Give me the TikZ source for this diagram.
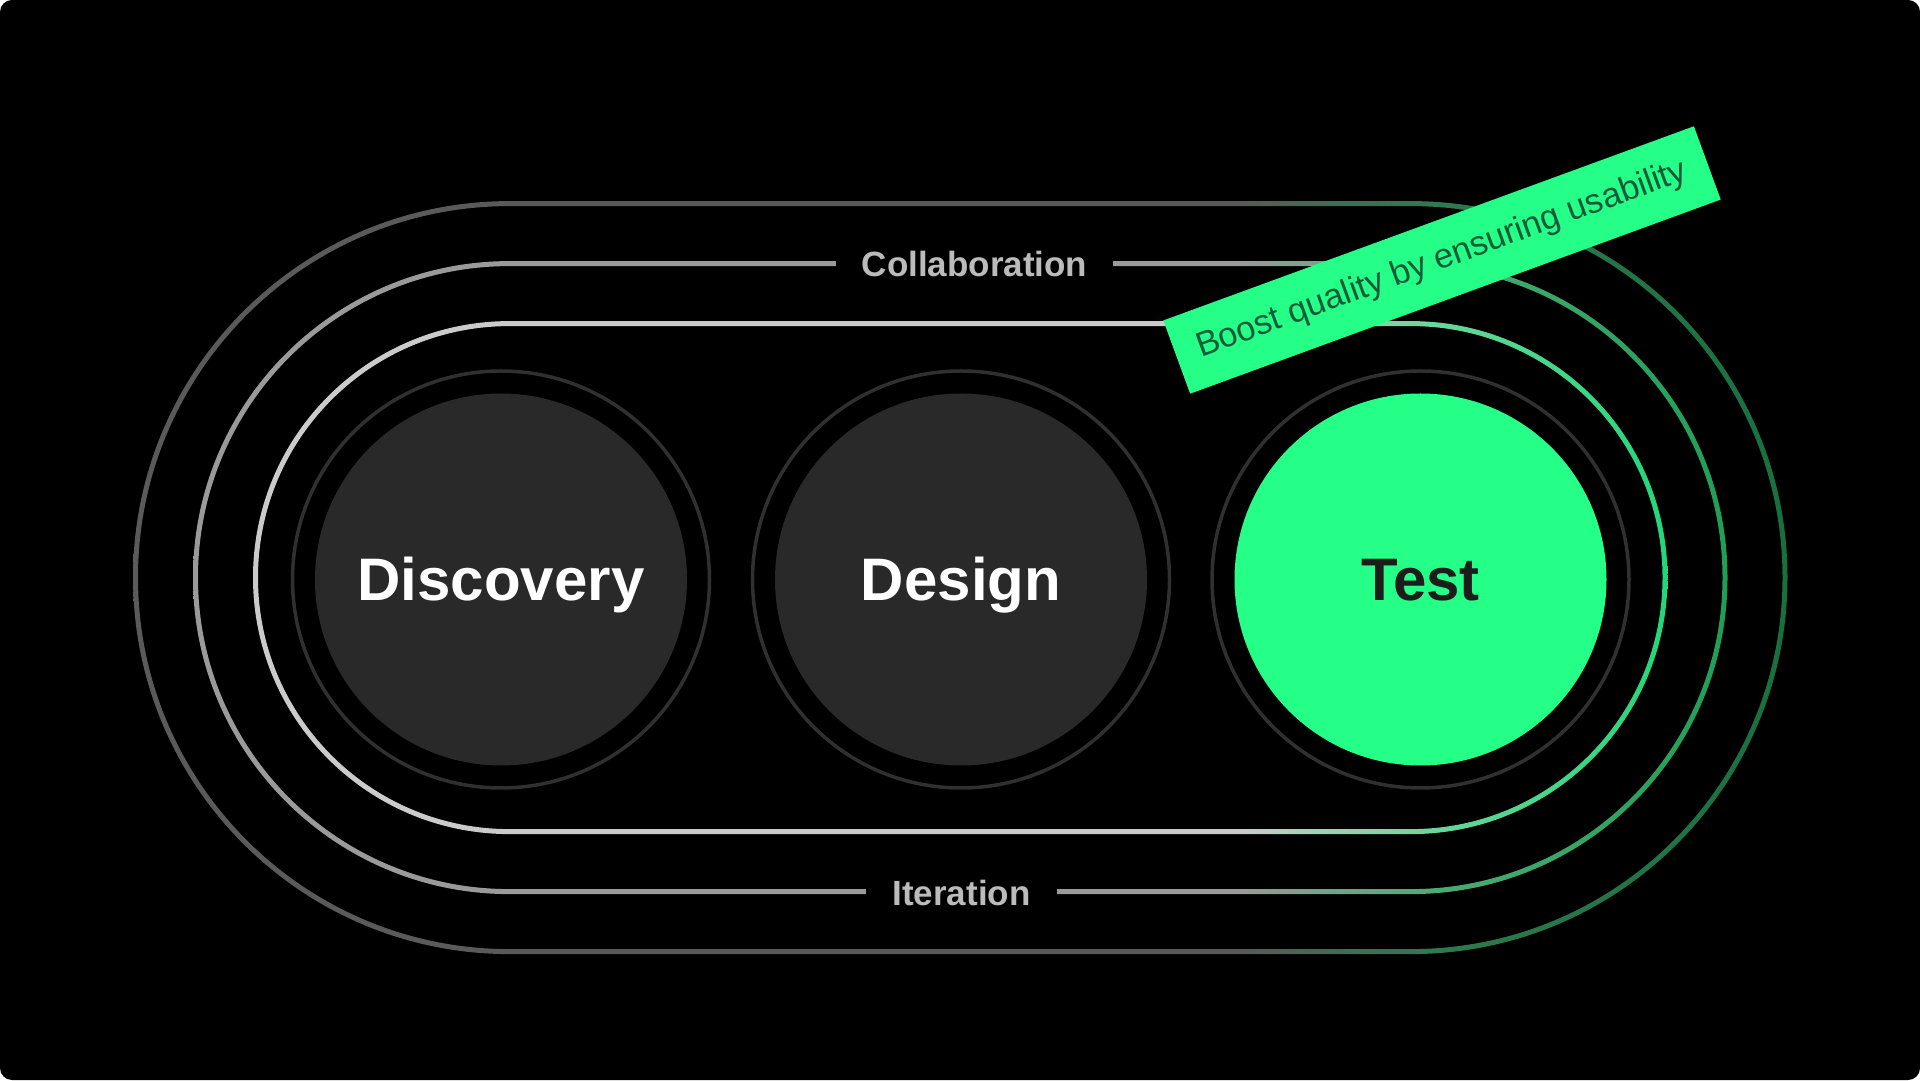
\documentclass[tikz,border=0pt]{standalone}
\usepackage{fontspec}
\setmainfont{Liberation Sans}
\definecolor{og}{HTML}{5A5A5A}
\definecolor{om}{HTML}{2F7A4F}
\definecolor{oe}{HTML}{18703F}
\definecolor{mg}{HTML}{9A9A9A}
\definecolor{mm}{HTML}{4DAB75}
\definecolor{me}{HTML}{1F9E57}
\definecolor{ig}{HTML}{CBCBCB}
\definecolor{im}{HTML}{6BD69A}
\definecolor{ie}{HTML}{22D679}
\definecolor{circdark}{HTML}{292929}
\definecolor{ringcol}{HTML}{303030}
\definecolor{neon}{HTML}{25FF88}
\definecolor{testdark}{HTML}{1C1C1C}
\definecolor{boostdark}{HTML}{0F5C38}
\definecolor{labgray}{HTML}{BBBBBB}
\pgfdeclarehorizontalshading{outerShade}{100bp}{color(0bp)=(og); color(58.46bp)=(og); color(64.2bp)=(om); color(75bp)=(oe); color(100bp)=(oe)}
\pgfdeclarehorizontalshading{midShade}{100bp}{color(0bp)=(mg); color(59.12bp)=(mg); color(65.31bp)=(mm); color(75bp)=(me); color(100bp)=(me)}
\pgfdeclarehorizontalshading{innerShade}{100bp}{color(0bp)=(ig); color(59.89bp)=(ig); color(66.61bp)=(im); color(75bp)=(ie); color(100bp)=(ie)}
\tikzset{
  stage/.style={circle, minimum size=372pt, inner sep=0pt, text height=42.8pt, text depth=0pt, font=\bfseries\fontsize{60}{72}\selectfont},
  ringline/.style={draw=ringcol, line width=3.5pt},
  looplabel/.style={fill=black, inner xsep=0pt, inner ysep=3pt, anchor=base, text=labgray, font=\bfseries\fontsize{35}{42}\selectfont},
  boostbox/.style={fill=neon, rotate=20.1, minimum width=565pt, minimum height=78pt, inner sep=0pt, text=boostdark, font=\fontsize{34.5}{40}\selectfont}
}
\begin{document}
\begin{tikzpicture}[x=1pt, y=1pt]
\useasboundingbox (0,0) rectangle (1920,1080);
\fill[white] (0,0) rectangle (1920,1080);
\fill[black, rounded corners=12pt] (0,0) rectangle (1920,1080);
% gradient stadium rings
\foreach \r/\sh in {374/outerShade, 314/midShade, 254/innerShade} {
  \shade[shading=\sh, even odd rule]
    (509.5,{502.4+\r+2.5}) -- (1411,{502.4+\r+2.5}) arc[start angle=90, end angle=-90, radius={\r+2.5}]
    -- (509.5,{502.4-\r-2.5}) arc[start angle=270, end angle=90, radius={\r+2.5}] -- cycle
    (509.5,{502.4+\r-2.5}) -- (1411,{502.4+\r-2.5}) arc[start angle=90, end angle=-90, radius={\r-2.5}]
    -- (509.5,{502.4-\r+2.5}) arc[start angle=270, end angle=90, radius={\r-2.5}] -- cycle;
}
% labels cutting the middle ring
\node[looplabel, minimum width=277pt] (collab) at (974.5,803.5) {Collaboration};
\node[looplabel, minimum width=191pt] (iter) at (961.5,174.3) {Iteration};
% stages
\node[stage, fill=circdark, text=white] (disc) at (501,500.5) {Discovery};
\node[stage, fill=circdark, text=white] (des) at (961,500.5) {Design};
\node[stage, fill=neon, text=testdark] (test) at (1420.5,500.5) {Test};
\foreach \n in {disc,des,test} {
  \draw[ringline] (\n.center) circle[radius=208.5];
}
% tag
\node[boostbox] (boost) at (1442,820) {Boost quality by ensuring usability};
\end{tikzpicture}
\end{document}
